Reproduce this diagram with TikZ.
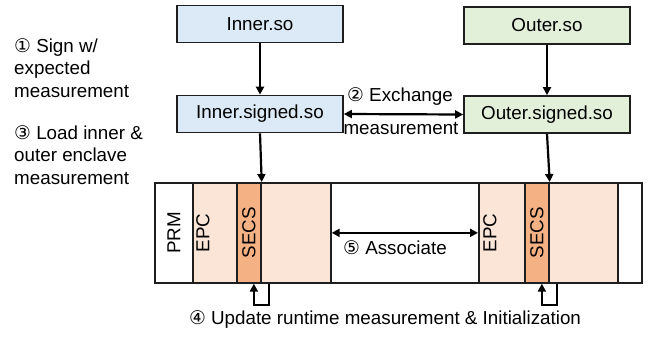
\documentclass[tikz,border=0pt]{standalone}
\usepackage{fontspec}
\setmainfont{Liberation Sans}
\newfontfamily\sym{DejaVu Sans}
\usetikzlibrary{arrows.meta,calc}
\definecolor{bluef}{HTML}{DCE9F6}
\definecolor{greenf}{HTML}{E2F0D9}
\definecolor{peach}{HTML}{FBE5D6}
\definecolor{orng}{HTML}{F4B183}
\definecolor{edge}{HTML}{1E1E1E}
\begin{document}
\begin{tikzpicture}[x=1pt,y=-1pt,
  font=\fontsize{18.8}{22.5}\selectfont,
  box/.style={draw=edge,line width=1.7pt,minimum width=166pt,minimum height=37pt,inner sep=0},
  region/.style={draw=edge,line width=1.7pt,anchor=north west,minimum height=100pt,inner sep=0},
  arr/.style={-{Triangle[length=8pt,width=8pt]},line width=2.2pt},
  darr/.style={{Triangle[length=8pt,width=8pt]}-{Triangle[length=8pt,width=8pt]},line width=2.2pt},
  lbl/.style={inner sep=0,anchor=base west},
  ctext/.style={inner sep=0}]
\useasboundingbox (0,0) rectangle (648,343);

% top boxes
\node[box,fill=bluef] (inner) at (260,24) {Inner.so};
\node[box,fill=bluef] (isig) at (260,114) {Inner.signed.so};
\node[box,fill=greenf] (outer) at (547,25.5) {Outer.so};
\node[box,fill=greenf] (osig) at (547,114.5) {Outer.signed.so};

% memory regions
\node[region,fill=white,minimum width=38pt] (prm) at (154,182) {};
\node[region,fill=peach,minimum width=44pt] (epcL) at (192,182) {};
\node[region,fill=orng,minimum width=24pt] (secsL) at (236,182) {};
\node[region,fill=peach,minimum width=70pt] (restL) at (260,182) {};
\node[region,fill=white,minimum width=148pt] (mid) at (330,182) {};
\node[region,fill=peach,minimum width=46pt] (epcR) at (478,182) {};
\node[region,fill=orng,minimum width=24pt] (secsR) at (524,182) {};
\node[region,fill=peach,minimum width=69pt] (restR) at (548,182) {};
\node[region,fill=white,minimum width=24pt] (endR) at (617,182) {};

\node[ctext,rotate=90] (prmt) at (prm.center) {PRM};
\node[ctext,rotate=90] (epcLt) at ($(epcL.west)+(11,0)$) {EPC};
\node[ctext,rotate=90] (secsLt) at (secsL.center) {SECS};
\node[ctext,rotate=90] (epcRt) at ($(epcR.west)+(12,0)$) {EPC};
\node[ctext,rotate=90] (secsRt) at (secsR.center) {SECS};

% arrows
\draw[arr] (inner.south) -- (isig.north);
\draw[arr] (outer.south) -- (osig.north);
\draw[arr] (isig.south) -- (secsL.north east);
\draw[arr] (osig.south) -- (secsR.north east);
\draw[darr] (isig.east) -- (osig.west);
\draw[darr] (restL.east) -- (epcR.west);
\draw[arr] ($(secsL.south east)+(7,0)$) -- ++(0,21) -| ($(secsL.south)+(5,0)$);
\draw[arr] ($(secsR.south east)+(7,0)$) -- ++(0,21) -| ($(secsR.south)+(5,0)$);

% labels
\node[ctext] (ex1) at (400,97) {{\sym ②} Exchange};
\node[ctext] (ex2) at (401,129) {measurement};
\node[ctext] (assoc) at (395,248) {{\sym ⑤} Associate};
\node[ctext] (upd) at (385,320) {{\sym ④} Update runtime measurement \& Initialization};

\node[lbl] (s1) at (14,52) {{\sym ①} Sign w/};
\node[lbl] (s2) at (14,74.5) {expected};
\node[lbl] (s3) at (14,97) {measurement};
\node[lbl] (l1) at (14,139) {{\sym ③} Load inner \&};
\node[lbl] (l2) at (14,161.5) {outer enclave};
\node[lbl] (l3) at (14,184) {measurement};
\end{tikzpicture}
\end{document}
